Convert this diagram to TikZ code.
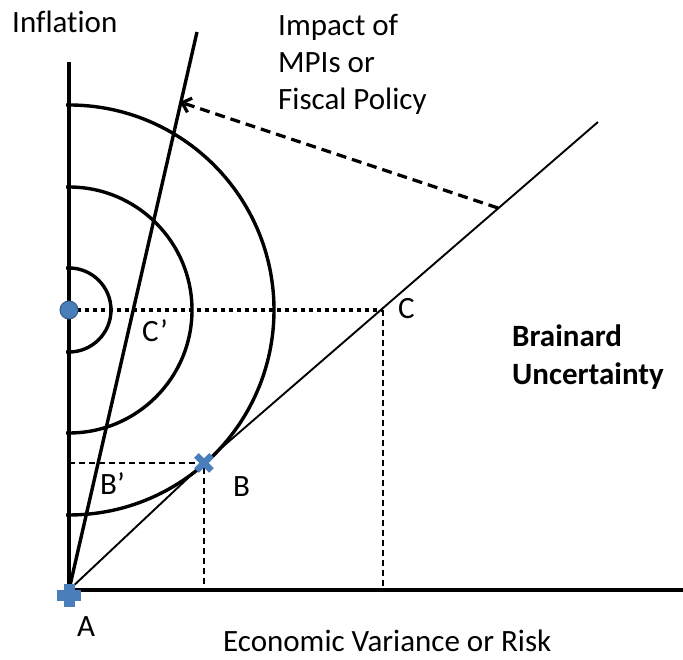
\documentclass[tikz,border=0pt]{standalone}
\usepackage{fontspec}
\setmainfont[Ligatures=NoCommon]{Carlito}
\usetikzlibrary{arrows.meta,calc}
\definecolor{markblue}{HTML}{4A7EBB}
\definecolor{markedge}{HTML}{385D8A}
\begin{document}
\begin{tikzpicture}[x=1pt,y=1pt,
  lbl/.style={inner sep=0pt, anchor=base west, font=\fontsize{31}{37}\selectfont},
  heavy/.style={line width=3.4pt},
  guide/.style={line width=1.5pt, dash pattern=on 6pt off 4pt},
  dotline/.style={line width=3.5pt, dash pattern=on 3.5pt off 4.5pt},
  shiftarrow/.style={line width=3.2pt, dash pattern=on 10pt off 6pt,
    -{Straight Barb[length=8pt,width=15pt,line width=3.2pt]}}]
\useasboundingbox (0,0) rectangle (683,660);

% key points
\coordinate (A) at (69,70);
\coordinate (ytop) at (69,598);
\coordinate (xend) at (683,70);
\coordinate (P) at (69,350);
\coordinate (B) at (204,197);
\coordinate (C) at (383,350);
\coordinate (E) at (598,538);
\coordinate (S) at (197,628);
\coordinate (D) at (498,452);
\coordinate (T) at (180,558);
\coordinate (Bax) at (204,70);
\coordinate (Cax) at (383,70);
\coordinate (By) at (69,197);

% axes
\draw[heavy] (ytop) -- (A) -- (xend);

% indifference arcs around the preferred point
\foreach \r in {42,123,205}
  \draw[heavy] ($(P)+(-3,-\r)$) -- ++(3,0) arc[start angle=-90, end angle=90, radius=\r] -- ++(-3,0);

% steep policy frontier
\draw[heavy] (A) -- (S);

% Brainard frontier
\draw[line width=1.9pt] (A) -- (B) -- (E);

% guides to the axes
\draw[guide] (By) -- (B) -- (Bax);
\draw[guide] (C) -- (Cax);
\draw[dotline] (P) -- (C);

% shift of the frontier
\draw[shiftarrow] (D) -- (T);

% markers
\fill[markblue, draw=markedge, line width=1pt] (P) circle (9);
\draw[markblue, line width=6.5pt] ($(B)+(-7.5,-7.5)$) -- ($(B)+(7.5,7.5)$) ($(B)+(-7.5,7.5)$) -- ($(B)+(7.5,-7.5)$);
\fill[markblue] ($(A)+(-12,0)$) rectangle ($(A)+(12,-11)$);
\fill[markblue] ($(A)+(-5,6)$) rectangle ($(A)+(6,-17)$);

% labels
\node[lbl] (linf) at (12,627) {Inflation};
\node[lbl] (limp1) at (278,624) {Impact of};
\node[lbl] (limp2) at (278,587) {MPIs or};
\node[lbl] (limp3) at (278,550) {Fiscal Policy};
\node[lbl, font=\fontsize{31}{37}\selectfont\bfseries] (lbr1) at (512,313) {Brainard};
\node[lbl, font=\fontsize{31}{37}\selectfont\bfseries] (lbr2) at (512,275) {Uncertainty};
\node[lbl] (lC) at (398,341) {C};
\node[lbl] (lCp) at (142,318) {C’};
\node[lbl] (lBp) at (100,165) {B’};
\node[lbl] (lB) at (233,163) {B};
\node[lbl] (lA) at (77,23) {A};
\node[lbl] (lx) at (223,8) {Economic Variance or Risk};
\end{tikzpicture}
\end{document}
